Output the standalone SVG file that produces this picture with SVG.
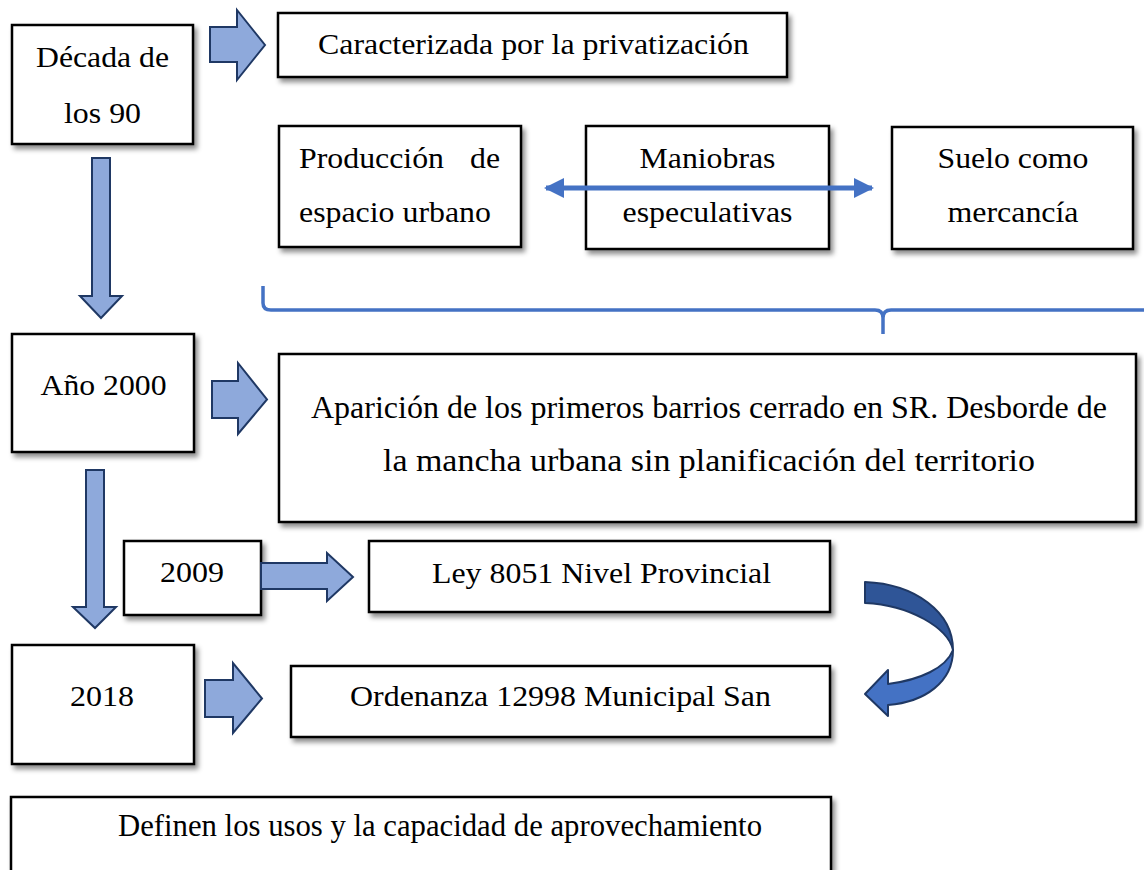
<svg xmlns="http://www.w3.org/2000/svg" width="1144" height="870" viewBox="0 0 1144 870">
<defs>
<filter id="sh" x="-10%" y="-10%" width="125%" height="135%">
<feDropShadow dx="3" dy="4" stdDeviation="2.5" flood-color="#000" flood-opacity="0.45"/>
</filter>
<marker id="ah" viewBox="0 0 10 10" refX="9" refY="5" markerWidth="4.6" markerHeight="4" orient="auto-start-reverse" markerUnits="strokeWidth">
<path d="M0,0 L10,5 L0,10 Z" fill="#4472C4"/>
</marker>
</defs>
<style>
.box{fill:#fff;stroke:#000;stroke-width:2.5;filter:url(#sh)}
.t{font-family:"Liberation Serif","Times New Roman",serif;font-size:29px;fill:#000}
.c{text-anchor:middle}
.big{fill:#8EA9DB;stroke:#1F3864;stroke-width:2;stroke-linejoin:miter}
.lnk{fill:none;stroke:#4472C4;stroke-width:5}
.brace{fill:none;stroke:#4472C4;stroke-width:3.5}
</style>
<rect width="1144" height="870" fill="#fff"/>

<g id="n-decada">
<rect class="box" x="12" y="25" width="181" height="119"/>
<text class="t c" x="102.5" y="67" textLength="133" lengthAdjust="spacingAndGlyphs">Década de</text>
<text class="t c" x="102.5" y="123" textLength="77" lengthAdjust="spacingAndGlyphs">los 90</text>
</g>
<g id="n-caracterizada">
<rect class="box" x="278" y="13" width="509" height="64"/>
<text class="t c" x="533.5" y="54" textLength="431" lengthAdjust="spacingAndGlyphs">Caracterizada por la privatización</text>
</g>
<g id="n-produccion">
<rect class="box" x="279" y="126" width="242" height="121"/>
<text class="t" x="299" y="168" textLength="145" lengthAdjust="spacingAndGlyphs">Producción</text>
<text class="t" x="470" y="168" textLength="30" lengthAdjust="spacingAndGlyphs">de</text>
<text class="t" x="299" y="222" textLength="192" lengthAdjust="spacingAndGlyphs">espacio urbano</text>
</g>
<g id="n-maniobras">
<rect class="box" x="586" y="126" width="243" height="123"/>
<text class="t c" x="707.5" y="168" textLength="136" lengthAdjust="spacingAndGlyphs">Maniobras</text>
<text class="t c" x="707.5" y="222" textLength="170" lengthAdjust="spacingAndGlyphs">especulativas</text>
</g>
<g id="n-suelo">
<rect class="box" x="892" y="127" width="241" height="122"/>
<text class="t c" x="1013" y="168" textLength="151" lengthAdjust="spacingAndGlyphs">Suelo como</text>
<text class="t c" x="1013" y="222" textLength="131" lengthAdjust="spacingAndGlyphs">mercancía</text>
</g>
<g id="n-2000">
<rect class="box" x="12" y="334" width="182" height="118"/>
<text class="t c" x="103.5" y="395" textLength="126" lengthAdjust="spacingAndGlyphs">Año 2000</text>
</g>
<g id="n-aparicion">
<rect class="box" x="279" y="354" width="857" height="168"/>
<text class="t c" x="709" y="418" textLength="796" lengthAdjust="spacingAndGlyphs" style="font-size:31px">Aparición de los primeros barrios cerrado en SR. Desborde de</text>
<text class="t c" x="709" y="471" textLength="652" lengthAdjust="spacingAndGlyphs" style="font-size:31px">la mancha urbana sin planificación del territorio</text>
</g>
<g id="n-2009">
<rect class="box" x="124" y="541" width="137" height="74"/>
<text class="t c" x="192" y="582" textLength="64" lengthAdjust="spacingAndGlyphs">2009</text>
</g>
<g id="n-ley">
<rect class="box" x="369" y="541" width="461" height="71"/>
<text class="t c" x="601.5" y="583" textLength="339" lengthAdjust="spacingAndGlyphs">Ley 8051 Nivel Provincial</text>
</g>
<g id="n-2018">
<rect class="box" x="12" y="645" width="182" height="119"/>
<text class="t c" x="102" y="706" textLength="64" lengthAdjust="spacingAndGlyphs">2018</text>
</g>
<g id="n-ordenanza">
<rect class="box" x="291" y="666" width="539" height="71"/>
<text class="t c" x="560.5" y="706" textLength="421" lengthAdjust="spacingAndGlyphs">Ordenanza 12998 Municipal San</text>
</g>
<g id="n-definen">
<rect class="box" x="11" y="797" width="820" height="90"/>
<text class="t c" x="440" y="836" textLength="644" lengthAdjust="spacingAndGlyphs" style="font-size:31px">Definen los usos y la capacidad de aprovechamiento</text>
</g>

<g id="connectors">
<polygon class="big" points="210,27 237,27 237,10 265,45 237,80 237,62 210,62"/>
<polygon class="big" points="92,158 110,158 110,296 122,296 101,318 80,296 92,296"/>
<polygon class="big" points="212,381 238,381 238,363 267,399.5 238,434 238,418 212,418"/>
<polygon class="big" points="86,470 104,470 104,607 116,607 95,628 73,607 86,607"/>
<polygon class="big" points="261,563 327,563 327,553 353,577 327,601 327,589 261,589"/>
<polygon class="big" points="205,680 233,680 233,663 262,698.5 233,733 233,717 205,717"/>
<line class="lnk" x1="546" y1="188" x2="872" y2="188" marker-start="url(#ah)" marker-end="url(#ah)"/>
<path class="brace" d="M263,286 V303 Q263,310 271,310 H875 Q883,310 883,318 V334 M883,318 Q883,310 891,310 H1148"/>
<g id="curved-arrow" stroke="#1F3864" stroke-width="2" stroke-linejoin="round">
<path d="M953,650 C953,682 925,702 888,705 L888,716 L865,694 L888,670 L888,684 C920,680 946,668 953,650 Z" fill="#4472C4"/>
<path d="M865,582 C915,584 953,612 953,650 C948,628 910,605 865,603 Z" fill="#2F5597"/>
</g>
</g>
</svg>
